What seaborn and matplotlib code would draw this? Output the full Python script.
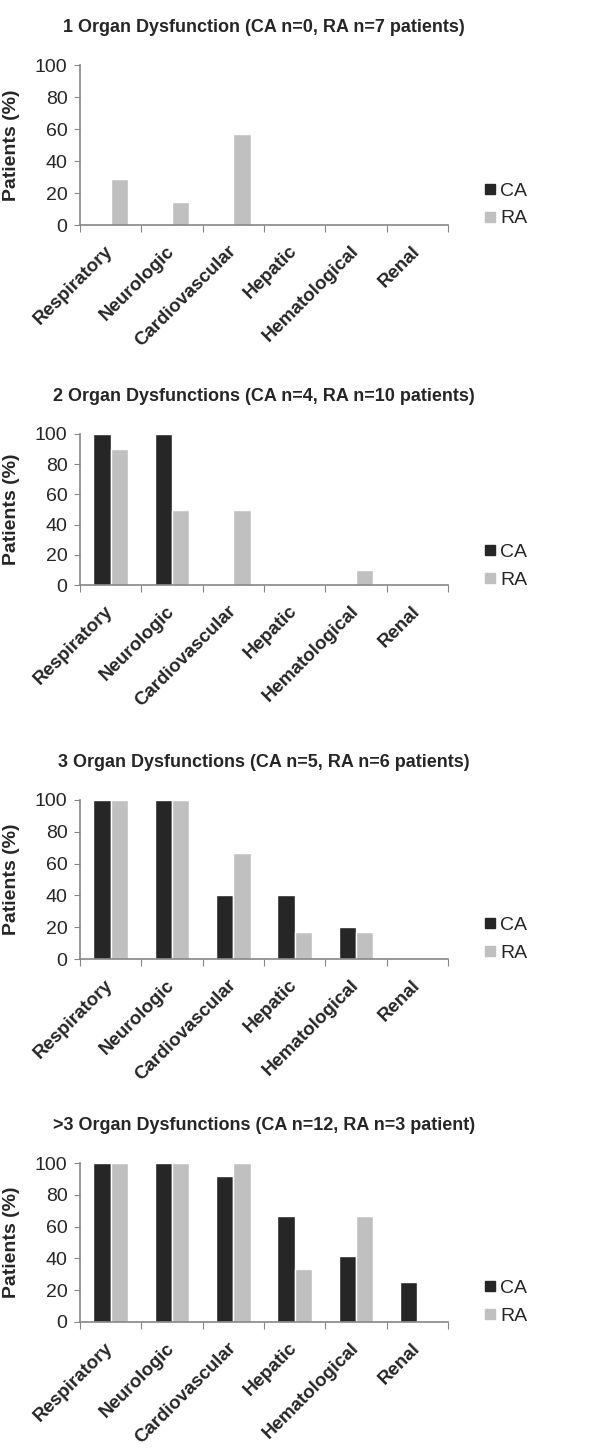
import matplotlib
matplotlib.use('Agg')
from matplotlib import pyplot as plt
from matplotlib.lines import Line2D
import numpy as np
import pandas as pd
import seaborn as sns

organs = ['Respiratory', 'Neurologic', 'Cardiovascular', 'Hepatic', 'Hematological', 'Renal']

titles = ['1 Organ Dysfunction (CA n=0, RA n=7 patients)',
          '2 Organ Dysfunctions (CA n=4, RA n=10 patients)',
          '3 Organ Dysfunctions (CA n=5, RA n=6 patients)',
          '>3 Organ Dysfunctions (CA n=12, RA n=3 patient)']

ca_1 = [0, 0, 0, 0, 0, 0]
ra_1 = [28.6, 14.3, 57.1, 0, 0, 0]
ca_2 = [100, 100, 0, 0, 0, 0]
ra_2 = [90, 50, 50, 0, 10, 0]
ca_3 = [100, 100, 40, 40, 20, 0]
ra_3 = [100, 100, 66.7, 16.7, 16.7, 0]
ca_4 = [100, 100, 91.7, 66.7, 41.7, 25]
ra_4 = [100, 100, 100, 33.3, 66.7, 0]

panels = [(ca_1, ra_1), (ca_2, ra_2), (ca_3, ra_3), (ca_4, ra_4)]

# pixel layout of each plot area (y of the 100 line, y of the 0 line)
W, H = 590, 1448
x_left, x_right = 80, 448
rows = [(65, 225), (434, 585), (800, 959), (1163, 1322)]

sns.set_style('white')
plt.rcParams['font.family'] = ['Liberation Sans', 'DejaVu Sans']

palette = {'CA': '#262626', 'RA': '#c0c0c0'}
axis_col = '#868686'

fig = plt.figure(figsize=(W / 100, H / 100), dpi=100)

for (ca, ra), title, (y_top, y_bot) in zip(panels, titles, rows):
    ax = fig.add_axes([x_left / W, 1 - y_bot / H, (x_right - x_left) / W, (y_bot - y_top) / H])
    df = pd.DataFrame({'organ': organs * 2,
                       'group': ['CA'] * 6 + ['RA'] * 6,
                       'pct': ca + ra})
    sns.barplot(data=df, x='organ', y='pct', hue='group', palette=palette,
                width=0.57, saturation=1, ax=ax, legend=False)

    ax.set_xlim(-0.5, 5.5)
    ax.set_ylim(0, 100)
    ax.set_yticks(range(0, 101, 20))
    ax.tick_params(axis='y', labelsize=14, length=4, color=axis_col, direction='out', pad=5, left=True)

    # excel-style ticks between categories, labels at centers
    ax.set_xticks(np.arange(-0.5, 6, 1))
    ax.set_xticklabels([])
    ax.set_xticks(range(6), minor=True)
    ax.set_xticklabels(organs, minor=True, rotation=45, ha='right', va='center',
                       rotation_mode='anchor', fontweight='bold', fontsize=13.5)
    ax.tick_params(axis='x', which='major', length=5, color=axis_col, direction='out', bottom=True)
    ax.tick_params(axis='x', which='minor', length=0, pad=17)

    for side in ['top', 'right']:
        ax.spines[side].set_visible(False)
    for side in ['left', 'bottom']:
        ax.spines[side].set_color(axis_col)
        ax.spines[side].set_linewidth(1.2)

    ax.set_xlabel('')
    ax.set_ylabel('Patients (%)', fontweight='bold', fontsize=14)
    ax.yaxis.set_label_coords(-60 / (x_right - x_left), 0.5)
    ax.set_title(title, fontweight='bold', fontsize=13, pad=24)

    handles = [Line2D([], [], marker='s', linestyle='', markersize=7, color=palette[g]) for g in ['CA', 'RA']]
    ax.legend(handles, ['CA', 'RA'], loc='center left', bbox_to_anchor=(1.05, 0.125),
              frameon=False, handlelength=0.6, handletextpad=0.25, labelspacing=0.5, fontsize=14)

fig.savefig('out.png', dpi=100)
